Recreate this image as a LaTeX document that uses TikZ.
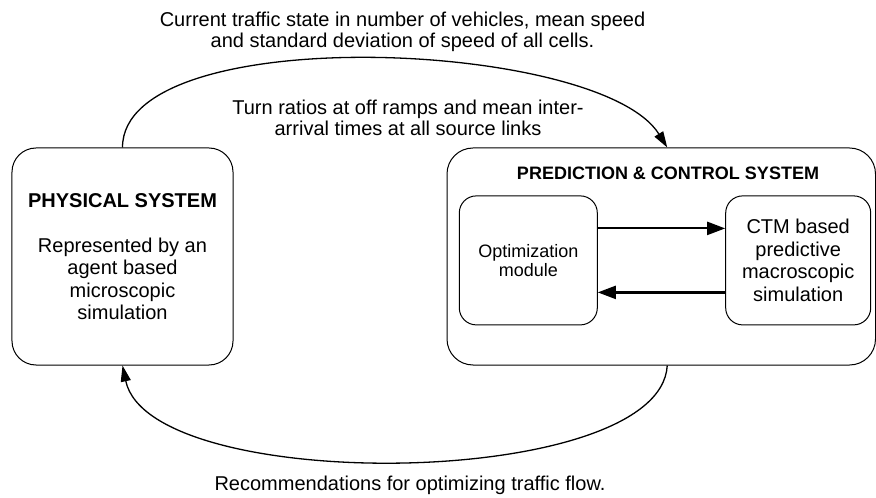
\documentclass[tikz,border=0pt]{standalone}
\usepackage{fontspec}
\setmainfont{Liberation Sans}
\usetikzlibrary{positioning}
\usetikzlibrary{arrows.meta}
\tikzstyle{sysbox} = [draw, line width=1bp, rounded corners=24bp, align=center, inner sep=0pt]
\tikzstyle{modbox} = [draw, line width=1bp, rounded corners=17bp, align=center, inner sep=0pt, minimum height=129bp]
\tikzstyle{feed} = [draw, line width=1.3bp, -{Triangle[length=16bp,width=10bp]}]
\tikzstyle{swap} = [draw, line width=2.2bp, -{Triangle[length=18bp,width=13bp]}]
\tikzstyle{caption} = [align=center, inner sep=0pt, font=\fontsize{20bp}{21bp}\selectfont]

\begin{document}
\begin{tikzpicture}[x=1bp, y=-1bp]
                    \useasboundingbox (0,0) rectangle (876,498);
                    \node[sysbox, minimum width=221bp, minimum height=217bp, font=\fontsize{20bp}{22.5bp}\selectfont] (phys) at (122.5,256.5)
                        {{\bfseries PHYSICAL SYSTEM}\\[22.5bp]Represented by an\\agent based\\microscopic\\simulation};
                    \node[sysbox, rounded corners=26bp, minimum width=428.5bp, minimum height=217bp] (pcs) at (661.25,256.5) {};
                    \node[inner sep=0pt, font=\fontsize{18bp}{20bp}\selectfont\bfseries] (pcstitle) at (668,173) {PREDICTION \& CONTROL SYSTEM};
                    \node[modbox, minimum width=138bp, font=\fontsize{18bp}{19.5bp}\selectfont] (opt) at (528.3,260.4) {Optimization\\module};
                    \node[modbox, minimum width=145bp, font=\fontsize{20bp}{22.7bp}\selectfont] (ctm) at (798.2,260.4) {CTM based\\predictive\\macroscopic\\simulation};
                    \node[caption] (state) at (402.5,31.5) {Current traffic state in number of vehicles, mean speed\\and standard deviation of speed of all cells.};
                    \node[caption] (ratios) at (408,118) {Turn ratios at off ramps and mean inter-\\arrival times at all source links};
                    \node[caption] (recs) at (410,485) {Recommendations for optimizing traffic flow.};
                    \draw[feed] (phys.north) .. controls +(0,-128) and +(-67,-108) .. ([xshift=6bp]pcs.north);
                    \draw[feed] ([xshift=6bp]pcs.south) .. controls +(-7,125) and +(27.5,130) .. (phys.south);
                    \draw[swap] ([yshift=32bp]opt.east) -- ([yshift=32bp]ctm.west);
                    \draw[swap] ([yshift=-32bp]ctm.west) -- ([yshift=-32bp]opt.east);
                \end{tikzpicture}
\end{document}
